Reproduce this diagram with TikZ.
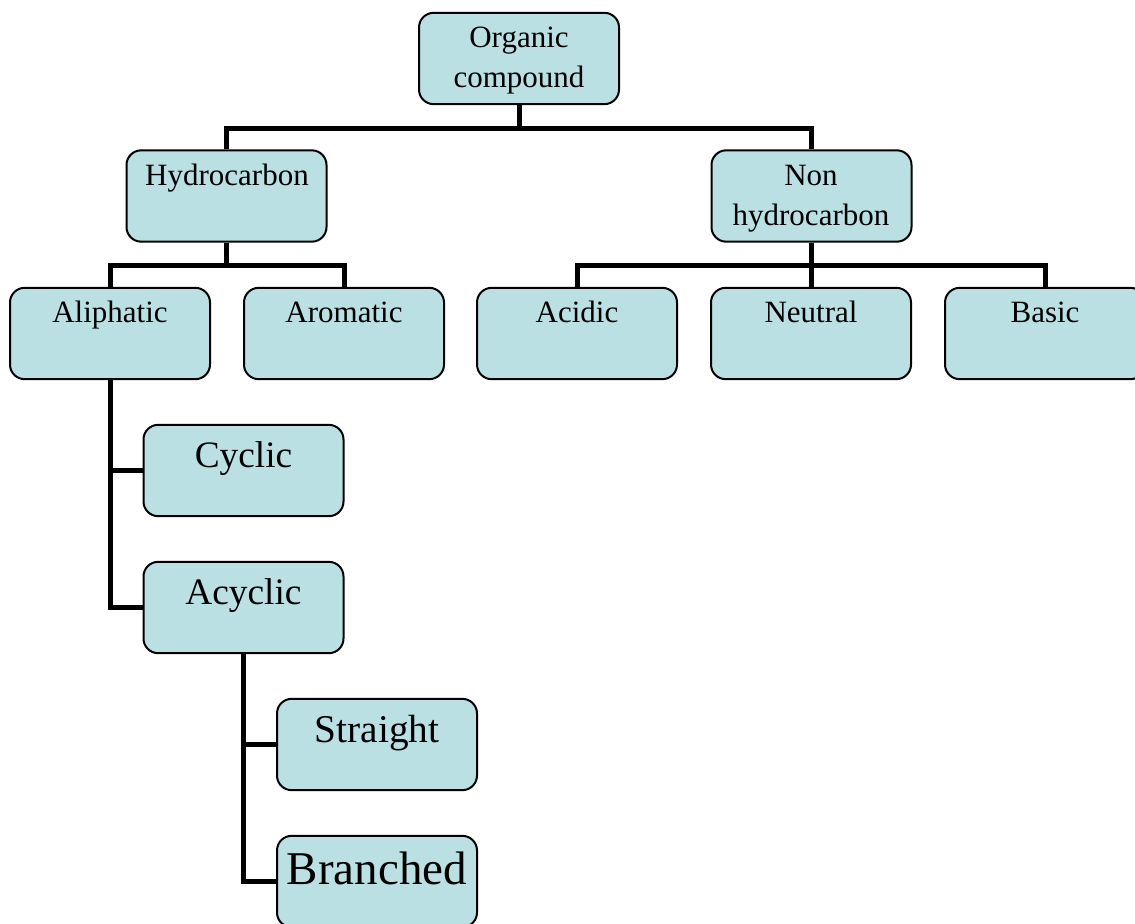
\documentclass[tikz,border=0pt]{standalone}
\usepackage{fontspec}
\setmainfont{Liberation Serif}
\definecolor{boxfill}{HTML}{BAE0E3}
\begin{document}
\begin{tikzpicture}[x=0.75pt,y=-0.75pt,
  box/.style={draw=black,line width=1.5pt,fill=boxfill,rounded corners=11pt,
    minimum width=150pt,minimum height=68.5pt,inner sep=0pt},
  conn/.style={line width=3.75pt},
  small/.style={anchor=base,inner sep=0pt,font=\fontsize{23.25}{30}\selectfont},
  mid/.style={anchor=base,inner sep=0pt,font=\fontsize{28}{34}\selectfont},
  midb/.style={anchor=base,inner sep=0pt,font=\fontsize{29.5}{35}\selectfont},
  big/.style={anchor=base,inner sep=0pt,font=\fontsize{35.25}{42}\selectfont}]
\useasboundingbox (0,0) rectangle (1135,924);
\clip (0,0) rectangle (1135,924);
% box anchors (not drawn yet)
\path
  (519,58.5) coordinate (c-org)
  (226.5,196) coordinate (c-hyd)
  (811.5,196) coordinate (c-non)
  (110,333.5) coordinate (c-ali)
  (344,333.5) coordinate (c-aro)
  (577,333.5) coordinate (c-aci)
  (811,333.5) coordinate (c-neu)
  (1045,333.5) coordinate (c-bas)
  (243.5,470.5) coordinate (c-cyc)
  (243.5,607.5) coordinate (c-acy)
  (377,744.5) coordinate (c-str)
  (377,881.5) coordinate (c-bra);
% boxes
\node[box] (org) at (c-org) {};
\node[box] (hyd) at (c-hyd) {};
\node[box] (non) at (c-non) {};
\node[box] (ali) at (c-ali) {};
\node[box] (aro) at (c-aro) {};
\node[box] (aci) at (c-aci) {};
\node[box] (neu) at (c-neu) {};
\node[box] (bas) at (c-bas) {};
\node[box] (cyc) at (c-cyc) {};
\node[box] (acy) at (c-acy) {};
\node[box] (str) at (c-str) {};
\node[box] (bra) at (c-bra) {};
% connectors
\begin{scope}[on background layer/.style={}]
\draw[conn] (org.south) -- ++(0,23) coordinate (j1) -| (hyd.north);
\draw[conn] (j1) -| (non.north);
\draw[conn] (hyd.south) -- ++(0,23) coordinate (j2) -| (ali.north);
\draw[conn] (j2) -| (aro.north);
\draw[conn] (non.south) -- ++(0,23) coordinate (j3) -| (aci.north);
\draw[conn] (j3) -| (neu.north);
\draw[conn] (j3) -| (bas.north);
\draw[conn] (ali.south) |- (cyc.west);
\draw[conn] (ali.south) |- (acy.west);
\draw[conn] (acy.south) |- (str.west);
\draw[conn] (acy.south) |- (bra.west);
\end{scope}
% texts
\node[small] (t-org1) at (519,48) {Organic};
\node[small] (t-org2) at (519,88) {compound};
\node[small] (t-hyd) at (227,185) {Hydrocarbon};
\node[small] (t-non1) at (811,185) {Non};
\node[small] (t-non2) at (811,225) {hydrocarbon};
\node[small] (t-ali) at (110,322) {Aliphatic};
\node[small] (t-aro) at (344,322) {Aromatic};
\node[small] (t-aci) at (577,322) {Acidic};
\node[small] (t-neu) at (811,322) {Neutral};
\node[small] (t-bas) at (1045,322) {Basic};
\node[mid] (t-cyc) at (243.5,467) {Cyclic};
\node[mid] (t-acy) at (243.5,604) {Acyclic};
\node[midb] (t-str) at (377,742) {Straight};
\node[big] (t-bra) at (377,884) {Branched};
\end{tikzpicture}
\end{document}
